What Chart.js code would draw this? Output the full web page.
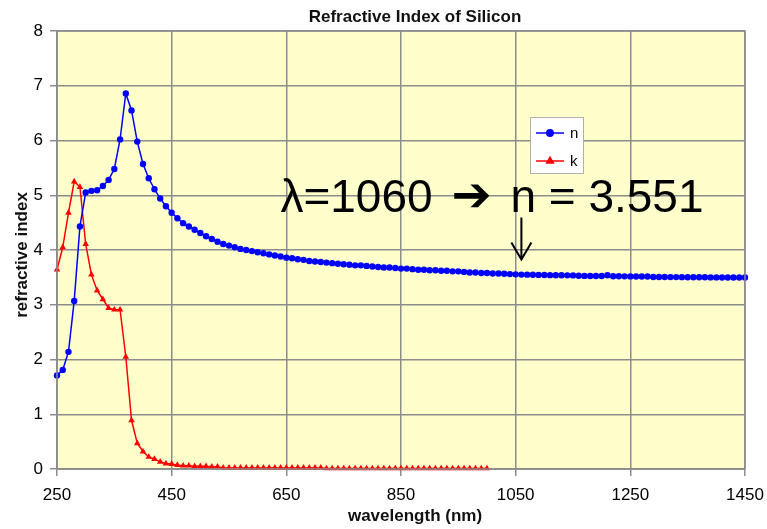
<!DOCTYPE html>
<html>
<head>
<meta charset="utf-8">
<title>Refractive Index of Silicon</title>
<script src="https://cdn.jsdelivr.net/npm/chart.js@4/dist/chart.umd.min.js"></script>
<style>
  html, body { margin: 0; padding: 0; background: #ffffff; }
  #wrap { width: 767px; height: 529px; position: relative; }
</style>
</head>
<body>
<div id="wrap"><canvas id="chart"></canvas></div>
<script>
// Wavelength grid (nm), 10 nm steps
const wavelengthNm = [
  250, 260, 270, 280, 290, 300, 310, 320, 330, 340,
  350, 360, 370, 380, 390, 400, 410, 420, 430, 440,
  450, 460, 470, 480, 490, 500, 510, 520, 530, 540,
  550, 560, 570, 580, 590, 600, 610, 620, 630, 640,
  650, 660, 670, 680, 690, 700, 710, 720, 730, 740,
  750, 760, 770, 780, 790, 800, 810, 820, 830, 840,
  850, 860, 870, 880, 890, 900, 910, 920, 930, 940,
  950, 960, 970, 980, 990, 1000, 1010, 1020, 1030, 1040,
  1050, 1060, 1070, 1080, 1090, 1100, 1110, 1120, 1130, 1140,
  1150, 1160, 1170, 1180, 1190, 1200, 1210, 1220, 1230, 1240,
  1250, 1260, 1270, 1280, 1290, 1300, 1310, 1320, 1330, 1340,
  1350, 1360, 1370, 1380, 1390, 1400, 1410, 1420, 1430, 1440,
  1450
];

// Real part n
const nValues = [
  1.71, 1.81, 2.14, 3.07, 4.43, 5.05, 5.08, 5.09, 5.17, 5.28,
  5.48, 6.02, 6.86, 6.55, 5.98, 5.57, 5.31, 5.11, 4.94, 4.80,
  4.68, 4.58, 4.49, 4.43, 4.37, 4.31, 4.25, 4.20, 4.15, 4.11,
  4.08, 4.05, 4.02, 4.00, 3.98, 3.96, 3.94, 3.92, 3.90, 3.88,
  3.86, 3.85, 3.83, 3.82, 3.80, 3.79, 3.78, 3.77, 3.76, 3.75,
  3.74, 3.73, 3.72, 3.72, 3.71, 3.70, 3.69, 3.68, 3.68, 3.67,
  3.66, 3.66, 3.65, 3.64, 3.64, 3.63, 3.63, 3.62, 3.62, 3.61,
  3.61, 3.60, 3.59, 3.59, 3.58, 3.58, 3.57, 3.57, 3.565, 3.56,
  3.555, 3.551, 3.55, 3.547, 3.545, 3.543, 3.541, 3.54, 3.538, 3.537,
  3.536, 3.53, 3.527, 3.526, 3.525, 3.524, 3.54, 3.52, 3.52, 3.519,
  3.518, 3.517, 3.516, 3.515, 3.508, 3.507, 3.506, 3.505, 3.505, 3.504,
  3.503, 3.502, 3.502, 3.501, 3.50, 3.50, 3.499, 3.499, 3.498, 3.498,
  3.497
];

// Extinction coefficient k (250 - 1000 nm)
const kValues = [
  3.64, 4.05, 4.68, 5.25, 5.15, 4.11, 3.55, 3.26, 3.10, 2.94,
  2.91, 2.91, 2.05, 0.89, 0.47, 0.32, 0.22, 0.18, 0.13, 0.10,
  0.09, 0.07, 0.06, 0.06, 0.05, 0.05, 0.05, 0.04, 0.04, 0.02,
  0.02, 0.02, 0.02, 0.02, 0.02, 0.02, 0.02, 0.02, 0.02, 0.02,
  0.02, 0.02, 0.02, 0.02, 0.02, 0.02, 0.02, 0.01, 0.01, 0.01,
  0.01, 0.01, 0.01, 0.01, 0.01, 0.01, 0.01, 0.01, 0.01, 0.01,
  0.01, 0.01, 0.01, 0.01, 0.01, 0.01, 0.01, 0.01, 0.01, 0.01,
  0.01, 0.01, 0.01, 0.01, 0.01, 0.01
];

const xTickValues = [250, 450, 650, 850, 1050, 1250, 1450];
const yTickValues = [0, 1, 2, 3, 4, 5, 6, 7, 8];

const markedWavelength = 1060;
const markedIndex = 3.551;

const chartTitle = 'Refractive Index of Silicon';
const xTitle = 'wavelength (nm)';
const yTitle = 'refractive index';

const FONT = '"Liberation Sans", Arial, sans-serif';
const GRID = '#8c8c8c';

const toPoints = (xs, ys) => ys.map((y, i) => ({ x: xs[i], y: y }));

// Plot background, frame, titles, legend and the 1060 nm callout
const decorations = {
  id: 'decorations',
  beforeDraw(chart) {
    const { ctx, chartArea: a } = chart;
    ctx.save();
    ctx.fillStyle = '#FFFFCC';
    ctx.fillRect(a.left, a.top, a.right - a.left, a.bottom - a.top);
    ctx.restore();
  },
  afterDraw(chart) {
    const { ctx, chartArea: a, scales } = chart;
    const cx = (a.left + a.right) / 2 + 14;
    ctx.save();

    // frame
    ctx.strokeStyle = GRID;
    ctx.lineWidth = 1.5;
    ctx.strokeRect(a.left, a.top, a.right - a.left, a.bottom - a.top);

    // titles
    ctx.fillStyle = '#111';
    ctx.textAlign = 'center';
    ctx.textBaseline = 'alphabetic';
    ctx.font = 'bold 17px ' + FONT;
    ctx.fillText(chartTitle, cx, a.top - 9);
    ctx.fillText(xTitle, cx, a.bottom + 52);
    ctx.save();
    ctx.translate(27, (a.top + a.bottom) / 2 + 5);
    ctx.rotate(-Math.PI / 2);
    ctx.fillText(yTitle, 0, 0);
    ctx.restore();

    // legend
    const lx = a.left + 473, ly = a.top + 86, lw = 53, lh = 56;
    ctx.fillStyle = '#ffffff';
    ctx.fillRect(lx, ly, lw, lh);
    ctx.strokeStyle = '#b0b0b0';
    ctx.lineWidth = 1;
    ctx.strokeRect(lx + 0.5, ly + 0.5, lw, lh);
    chart.data.datasets.forEach((ds, i) => {
      const ry = ly + 16 + i * 28;
      ctx.strokeStyle = ds.borderColor;
      ctx.fillStyle = ds.backgroundColor;
      ctx.lineWidth = ds.borderWidth;
      ctx.beginPath();
      ctx.moveTo(lx + 6, ry);
      ctx.lineTo(lx + 34, ry);
      ctx.stroke();
      Chart.helpers.drawPoint(ctx, {
        pointStyle: ds.pointStyle, radius: ds.pointRadius, rotation: 0, borderWidth: 1
      }, lx + 20, ry);
      ctx.fillStyle = '#000';
      ctx.font = '15px ' + FONT;
      ctx.textAlign = 'left';
      ctx.textBaseline = 'middle';
      ctx.fillText(ds.label, lx + 40, ry + 1);
    });

    // callout for n at 1060 nm
    const ax = scales.x.getPixelForValue(markedWavelength);
    const py = scales.y.getPixelForValue(markedIndex);
    const tip = py - 15, top = tip - 42;
    ctx.strokeStyle = '#000';
    ctx.lineWidth = 2;
    ctx.beginPath();
    ctx.moveTo(ax, top);
    ctx.lineTo(ax, tip);
    ctx.moveTo(ax - 10, tip - 17);
    ctx.lineTo(ax, tip);
    ctx.lineTo(ax + 10, tip - 17);
    ctx.stroke();

    const base = top - 6;
    ctx.fillStyle = '#000';
    ctx.textAlign = 'left';
    ctx.textBaseline = 'alphabetic';
    ctx.font = '46px ' + FONT;
    ctx.fillText('\u03BB=' + markedWavelength, ax - 241, base);
    ctx.font = 'bold 48px "DejaVu Sans"';
    ctx.fillText('\u2794', ax - 70, base - 1);
    ctx.font = '46px ' + FONT;
    ctx.fillText('n = ' + markedIndex, ax - 11, base);

    ctx.restore();
  }
};

new Chart(document.getElementById('chart'), {
  type: 'line',
  data: {
    datasets: [
      {
        label: 'n',
        data: toPoints(wavelengthNm, nValues),
        borderColor: '#0000FF',
        backgroundColor: '#0000FF',
        borderWidth: 1.5,
        pointStyle: 'circle',
        pointRadius: 3.2,
        pointBorderWidth: 0,
        tension: 0,
        clip: false
      },
      {
        label: 'k',
        data: toPoints(wavelengthNm.slice(0, kValues.length), kValues),
        borderColor: '#FF0000',
        backgroundColor: '#FF0000',
        borderWidth: 1.5,
        pointStyle: 'triangle',
        pointRadius: 3.8,
        pointBorderWidth: 0,
        tension: 0,
        clip: false
      }
    ]
  },
  options: {
    responsive: true,
    maintainAspectRatio: false,
    animation: false,
    events: [],
    layout: { padding: { top: 31, right: 22, left: 0, bottom: 0 } },
    plugins: {
      legend: { display: false },
      title: { display: false },
      tooltip: { enabled: false }
    },
    scales: {
      x: {
        type: 'linear',
        min: 250,
        max: 1450,
        afterBuildTicks: s => { s.ticks = xTickValues.map(v => ({ value: v })); },
        afterFit: s => { s.height = 60; s.paddingLeft = 0; s.paddingRight = 0; },
        grid: { color: GRID, lineWidth: 1.5, tickLength: 7, tickColor: GRID },
        border: { display: true, color: GRID, width: 1.5 },
        ticks: {
          font: { family: FONT, size: 17 }, color: '#000', padding: 9, maxRotation: 0,
          callback: v => String(v)
        }
      },
      y: {
        type: 'linear',
        min: 0,
        max: 8,
        afterBuildTicks: s => { s.ticks = yTickValues.map(v => ({ value: v })); },
        afterFit: s => { s.width = 57; },
        grid: { color: GRID, lineWidth: 1.5, tickLength: 7, tickColor: GRID },
        border: { display: true, color: GRID, width: 1.5 },
        ticks: {
          font: { family: FONT, size: 17 }, color: '#000', padding: 7,
          callback: v => String(v)
        }
      }
    }
  },
  plugins: [decorations]
});
</script>
</body>
</html>
